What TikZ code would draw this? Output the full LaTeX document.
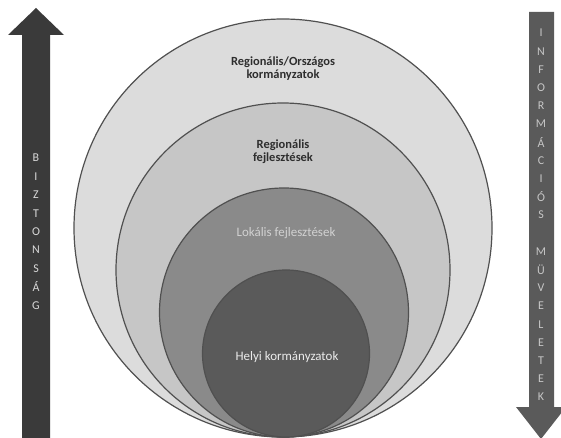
\documentclass[tikz,border=0pt]{standalone}
\usepackage{fontspec}
\setmainfont{Carlito}
\usetikzlibrary{positioning}
\definecolor{ringline}{HTML}{505050}
\definecolor{fillA}{HTML}{DCDCDC}
\definecolor{fillB}{HTML}{C6C6C6}
\definecolor{fillC}{HTML}{8A8A8A}
\definecolor{fillD}{HTML}{5A5A5A}
\definecolor{arrowdark}{HTML}{3A3A3A}
\definecolor{arrowgray}{HTML}{5A5A5A}
\definecolor{lbldark}{HTML}{2E2E2E}
\begin{document}
\begin{tikzpicture}[x=1bp,y=-1bp]
\tikzstyle{ring}=[circle,draw=ringline,line width=1.2bp,inner sep=0pt]
\tikzstyle{lbl}=[align=center,font=\bfseries\fontsize{12.5}{13}\selectfont,text=lbldark]
\tikzstyle{lbllight}=[font=\fontsize{13}{15}\selectfont]
\tikzstyle{letter}=[font=\fontsize{12}{13}\selectfont,inner sep=0pt]
\useasboundingbox (0,0) rectangle (561,438);
% nested circles
\node[ring,fill=fillA,minimum size=418bp] (outer) at (283,228) {};
\node[ring,fill=fillB,minimum size=334bp] (second) at (283,270) {};
\node[ring,fill=fillC,minimum size=249bp] (third) at (284,312.5) {};
\node[ring,fill=fillD,minimum size=167bp] (inner) at (286,353.5) {};
\node[lbl] (outerlbl) at (283,69) {Regionális/Országos\\kormányzatok};
\node[lbl] (secondlbl) at (283,152) {Regionális\\fejlesztések};
\node[lbllight,text=white!82!black] (thirdlbl) at (286,233) {Lokális fejlesztések};
\node[lbllight,text=white!92!black] (innerlbl) at (287,357) {Helyi kormányzatok};
% arrows
\fill[arrowdark] (22,438) -- (22,35) -- (8,35) -- (36,8) -- (64,35) -- (50,35) -- (50,438) -- cycle;
\fill[arrowgray] (529,12) -- (554,12) -- (554,407) -- (566,407) -- (541,439) -- (516,407) -- (529,407) -- cycle;
\foreach \ch [count=\i] in {B,I,Z,T,O,N,S,Á,G}
  \node[letter,text=white!85!black] (bz\i) at (36,{158+18.4*(\i-1)}) {\ch};
\foreach \ch [count=\i] in {I,N,F,O,R,M,Á,C,I,Ó,S,{},M,Ü,V,E,L,E,T,E,K}
  \node[letter,text=white!78!black] (im\i) at (541,{33+18.2*(\i-1)}) {\ch};
\end{tikzpicture}
\end{document}
